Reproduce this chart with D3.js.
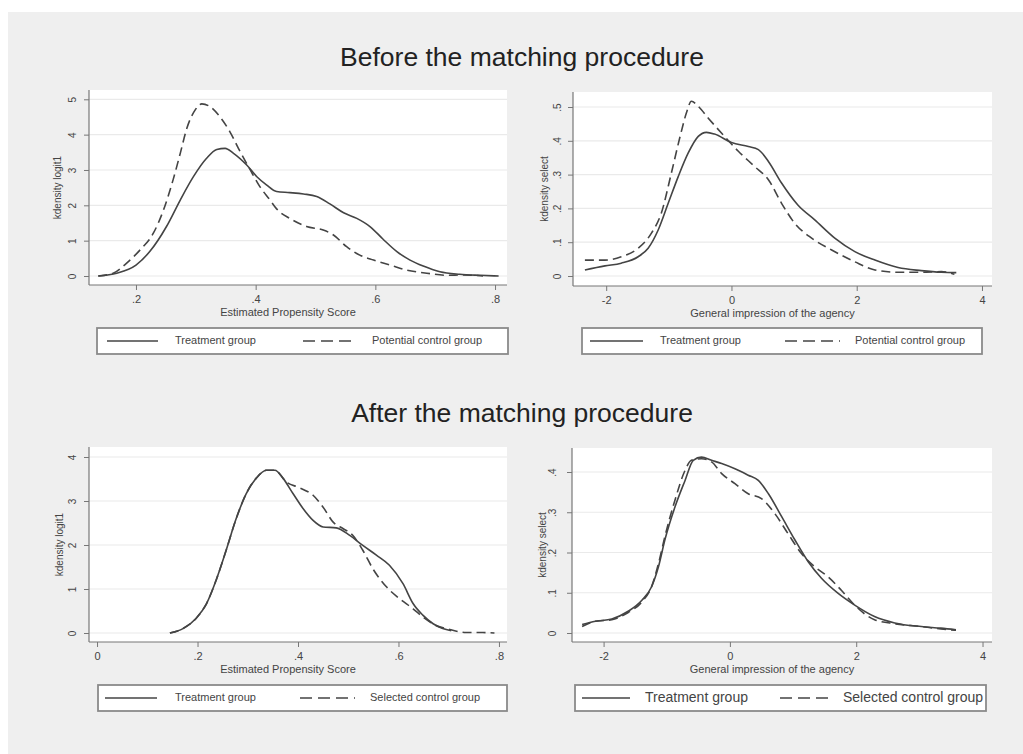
<!DOCTYPE html>
<html>
<head>
<meta charset="utf-8">
<script src="https://cdn.jsdelivr.net/npm/d3@7"></script>
<style>
  body { margin: 0; background: #fff; font-family: "Liberation Sans", Arial, sans-serif; }
  .tick-label, .axis-title, .legend-text { fill: #444; }
</style>
</head>
<body>
<svg id="chart"></svg>
<script>
// ---- data ----
const sectionTitles = ['Before the matching procedure', 'After the matching procedure'];
const scoreTitle = 'Estimated Propensity Score';
const impressionTitle = 'General impression of the agency';
const logitTitle = 'kdensity logit1';
const selectTitle = 'kdensity select';
const seriesNames = ['Treatment group', 'Potential control group', 'Selected control group'];

const scoreTicksTop = [0.2, 0.4, 0.6, 0.8];
const scoreTicksBottom = [0, 0.2, 0.4, 0.6, 0.8];
const impressionTicks = [-2, 0, 2, 4];
const logitTicksTop = [0, 1, 2, 3, 4, 5];
const logitTicksBottom = [0, 1, 2, 3, 4];
const selectTicksTop = [0, 0.1, 0.2, 0.3, 0.4, 0.5];
const selectTicksBottom = [0, 0.1, 0.2, 0.3, 0.4];

// before: propensity score
const beforeScoreTreat = [[0.137,0],[0.168,0.08],[0.2,0.31],[0.223,0.69],[0.251,1.4],[0.274,2.15],[0.296,2.81],
  [0.318,3.33],[0.335,3.58],[0.349,3.61],[0.363,3.47],[0.385,3.14],[0.402,2.81],[0.418,2.58],[0.435,2.39],
  [0.457,2.36],[0.48,2.32],[0.502,2.25],[0.524,2.04],[0.547,1.79],[0.569,1.63],[0.591,1.4],[0.613,1.04],
  [0.636,0.69],[0.658,0.45],[0.68,0.28],[0.708,0.12],[0.741,0.05],[0.775,0.02],[0.806,0]];
const beforeScoreCtrl = [[0.137,0],[0.162,0.08],[0.184,0.36],[0.207,0.74],[0.229,1.21],[0.246,1.87],[0.262,2.72],
  [0.274,3.47],[0.285,4.18],[0.299,4.7],[0.31,4.87],[0.324,4.79],[0.34,4.51],[0.357,4.08],[0.374,3.52],
  [0.391,3.0],[0.407,2.53],[0.424,2.15],[0.435,1.9],[0.457,1.63],[0.485,1.4],[0.513,1.3],[0.53,1.16],
  [0.552,0.83],[0.574,0.59],[0.597,0.45],[0.625,0.31],[0.652,0.17],[0.686,0.08],[0.719,0.02],[0.747,0.03],[0.78,0]];

// before: general impression
const beforeImprTreat = [[-2.34,0.018],[-2.02,0.03],[-1.76,0.038],[-1.49,0.057],[-1.33,0.082],[-1.17,0.136],
  [-1.01,0.215],[-0.85,0.294],[-0.69,0.364],[-0.53,0.413],[-0.4,0.425],[-0.27,0.42],[0,0.395],[0.27,0.383],
  [0.43,0.374],[0.59,0.339],[0.8,0.275],[1.06,0.21],[1.33,0.166],[1.65,0.112],[1.97,0.072],[2.29,0.047],
  [2.66,0.025],[3.03,0.016],[3.35,0.011],[3.59,0.01]];
const beforeImprCtrl = [[-2.34,0.047],[-2.02,0.047],[-1.76,0.057],[-1.49,0.082],[-1.28,0.126],[-1.12,0.186],
  [-0.96,0.304],[-0.82,0.413],[-0.72,0.482],[-0.64,0.517],[-0.53,0.502],[-0.37,0.467],[-0.16,0.423],
  [0.11,0.369],[0.37,0.324],[0.59,0.285],[0.8,0.215],[1.01,0.156],[1.28,0.112],[1.6,0.077],[1.97,0.042],
  [2.29,0.018],[2.66,0.011],[3.03,0.011],[3.35,0.013],[3.56,0.005]];

// after: propensity score
const afterScoreTreat = [[0.145,0],[0.171,0.1],[0.197,0.33],[0.218,0.67],[0.237,1.2],[0.257,1.88],[0.277,2.6],
  [0.297,3.17],[0.317,3.52],[0.337,3.7],[0.354,3.7],[0.37,3.52],[0.39,3.17],[0.41,2.83],[0.43,2.56],
  [0.45,2.41],[0.476,2.39],[0.503,2.22],[0.529,1.99],[0.556,1.77],[0.582,1.54],[0.609,1.12],[0.629,0.67],
  [0.649,0.4],[0.669,0.21],[0.688,0.1],[0.705,0.05]];
const afterScoreCtrl = [[0.145,0],[0.171,0.1],[0.197,0.33],[0.218,0.67],[0.237,1.2],[0.257,1.88],[0.277,2.6],
  [0.297,3.17],[0.317,3.52],[0.337,3.7],[0.354,3.7],[0.377,3.43],[0.403,3.3],[0.43,3.13],[0.45,2.86],
  [0.47,2.52],[0.49,2.37],[0.509,2.22],[0.529,1.88],[0.549,1.46],[0.576,1.05],[0.602,0.78],[0.629,0.55],
  [0.649,0.36],[0.675,0.17],[0.702,0.08],[0.735,0.01],[0.768,0.01],[0.791,0]];

// after: general impression
const afterImprTreat = [[-2.34,0.021],[-2.13,0.029],[-1.87,0.035],[-1.61,0.054],[-1.39,0.082],[-1.24,0.115],
  [-1.13,0.165],[-1.03,0.231],[-0.87,0.313],[-0.71,0.379],[-0.58,0.429],[-0.45,0.437],[-0.29,0.429],
  [-0.13,0.421],[0.08,0.408],[0.29,0.392],[0.45,0.379],[0.61,0.346],[0.82,0.289],[1.03,0.231],[1.24,0.177],
  [1.45,0.136],[1.71,0.099],[1.97,0.07],[2.29,0.041],[2.61,0.025],[3.03,0.016],[3.34,0.012],[3.58,0.008]];
const afterImprCtrl = [[-2.34,0.016],[-2.13,0.029],[-1.87,0.033],[-1.61,0.051],[-1.39,0.078],[-1.24,0.115],
  [-1.13,0.173],[-1.03,0.239],[-0.87,0.33],[-0.71,0.404],[-0.61,0.429],[-0.45,0.433],[-0.29,0.425],
  [-0.13,0.396],[0.08,0.371],[0.29,0.346],[0.5,0.334],[0.71,0.297],[0.92,0.247],[1.13,0.198],[1.34,0.165],
  [1.55,0.14],[1.76,0.107],[1.97,0.07],[2.29,0.033],[2.61,0.023],[3.03,0.016],[3.34,0.01],[3.58,0.007]];

const fmt = d => d === 0 ? '0' : (Math.abs(d) < 1 ? String(d).replace('0.', '.') : String(d));

class DensityPanel {
  constructor(_config, _data) {
    this.config = _config;
    this.data = _data;
    this.initVis();
  }

  initVis() {
    let vis = this;
    const c = vis.config;

    vis.xScale = d3.scaleLinear().domain(c.xDomain).range([c.left, c.right]);
    vis.yScale = d3.scaleLinear().domain([0, c.yTicks[c.yTicks.length - 1]])
        .range([c.y0, c.yTop]);

    vis.g = d3.select('#chart').append('g');

    // white plot region
    vis.g.append('rect')
        .attr('x', c.left).attr('y', c.top)
        .attr('width', c.right - c.left).attr('height', c.bottom - c.top)
        .attr('fill', '#fff');

    // gridlines
    vis.g.selectAll('.grid')
        .data(c.yTicks)
      .join('line')
        .attr('x1', c.left).attr('x2', c.right)
        .attr('y1', d => vis.yScale(d)).attr('y2', d => vis.yScale(d))
        .attr('stroke', '#eaeaea').attr('stroke-width', 1.2);

    // y axis
    vis.yAxis = d3.axisLeft(vis.yScale).tickValues(c.yTicks).tickSize(5).tickFormat(fmt);
    vis.yAxisG = vis.g.append('g')
        .attr('transform', `translate(${c.left},0)`)
        .call(vis.yAxis);
    vis.yAxisG.select('.domain').remove();
    vis.yAxisG.selectAll('line').attr('stroke', '#777');
    vis.yAxisG.selectAll('text')
        .attr('class', 'tick-label')
        .attr('x', 0).attr('dy', null)
        .attr('transform', `translate(${c.yLabelX - c.left},0) rotate(-90)`)
        .attr('text-anchor', 'middle')
        .attr('dominant-baseline', 'middle')
        .style('font-size', '10px')
        .style('fill', '#444');

    // x axis
    vis.xAxis = d3.axisBottom(vis.xScale).tickValues(c.xTicks).tickSize(5).tickFormat(fmt);
    vis.xAxisG = vis.g.append('g')
        .attr('transform', `translate(0,${c.bottom})`)
        .call(vis.xAxis);
    vis.xAxisG.select('.domain').remove();
    vis.xAxisG.selectAll('line').attr('stroke', '#777');
    vis.xAxisG.selectAll('text')
        .attr('y', 10).attr('dy', '0.71em')
        .style('font-size', '11px')
        .style('fill', '#444');

    // axis lines
    vis.g.append('line')
        .attr('x1', c.left).attr('x2', c.left).attr('y1', c.top).attr('y2', c.bottom)
        .attr('stroke', '#777').attr('stroke-width', 1.2);
    vis.g.append('line')
        .attr('x1', c.left).attr('x2', c.right).attr('y1', c.bottom).attr('y2', c.bottom)
        .attr('stroke', '#777').attr('stroke-width', 1.2);

    // axis titles
    vis.g.append('text')
        .attr('class', 'axis-title')
        .attr('transform', `translate(${c.yTitleX},${(c.top + c.bottom) / 2}) rotate(-90)`)
        .attr('text-anchor', 'middle')
        .attr('dominant-baseline', 'middle')
        .style('font-size', '10px')
        .text(c.yTitle);

    vis.g.append('text')
        .attr('class', 'axis-title')
        .attr('x', (c.left + c.right) / 2 - 10)
        .attr('y', c.bottom + 28)
        .attr('text-anchor', 'middle')
        .attr('dominant-baseline', 'middle')
        .style('font-size', '11px')
        .text(c.xTitle);

    vis.line = d3.line()
        .x(d => vis.xScale(d[0]))
        .y(d => vis.yScale(d[1]))
        .curve(d3.curveMonotoneX);

    vis.renderVis();
    vis.renderLegend();
  }

  renderVis() {
    let vis = this;
    vis.g.selectAll('.chart-line')
        .data(vis.data)
      .join('path')
        .attr('class', 'chart-line')
        .attr('d', d => vis.line(d.values))
        .attr('fill', 'none')
        .attr('stroke', '#444')
        .attr('stroke-width', 1.6)
        .attr('stroke-dasharray', d => d.dashed ? '9,5' : null);
  }

  renderLegend() {
    let vis = this;
    const lg = vis.config.legend;
    const leg = vis.g.append('g');
    leg.append('rect')
        .attr('x', lg.x0).attr('y', lg.y - 13)
        .attr('width', lg.x1 - lg.x0).attr('height', 26)
        .attr('fill', '#fff').attr('stroke', '#8a8a8a').attr('stroke-width', 1.8);

    vis.data.forEach((d, i) => {
      const item = lg.items[i];
      leg.append('line')
          .attr('x1', item[0]).attr('x2', item[1])
          .attr('y1', lg.y).attr('y2', lg.y)
          .attr('stroke', '#444').attr('stroke-width', 1.6)
          .attr('stroke-dasharray', d.dashed ? '12,6' : null);
      leg.append('text')
          .attr('class', 'legend-text')
          .attr('x', item[2]).attr('y', lg.y)
          .attr('dominant-baseline', 'middle')
          .style('font-size', lg.font + 'px')
          .text(d.name);
    });
  }
}

const svg = d3.select('#chart').attr('width', 1023).attr('height', 754);

// grey graph region
svg.append('rect')
    .attr('x', 8).attr('y', 12).attr('width', 1015).attr('height', 742)
    .attr('fill', '#efefef');

svg.selectAll('.section-title')
    .data(sectionTitles)
  .join('text')
    .attr('class', 'section-title')
    .attr('x', 522)
    .attr('y', (d, i) => i === 0 ? 59 : 415)
    .attr('text-anchor', 'middle')
    .attr('dominant-baseline', 'middle')
    .style('font-size', '26.5px')
    .style('fill', '#222')
    .text(d => d);

new DensityPanel({
  left: 89, right: 507, top: 90, bottom: 285, y0: 276, yTop: 99.3,
  xDomain: [0.1215, 0.82], xTicks: scoreTicksTop, yTicks: logitTicksTop,
  yLabelX: 73, yTitleX: 58, yTitle: logitTitle, xTitle: scoreTitle,
  legend: { x0: 97, x1: 508, y: 341, font: 11, items: [[107, 158, 175], [303, 355, 372]] }
}, [
  { name: seriesNames[0], values: beforeScoreTreat, dashed: false },
  { name: seriesNames[1], values: beforeScoreCtrl, dashed: true }
]);

new DensityPanel({
  left: 573, right: 992, top: 92, bottom: 286, y0: 276, yTop: 107,
  xDomain: [-2.53, 4.16], xTicks: impressionTicks, yTicks: selectTicksTop,
  yLabelX: 558, yTitleX: 545, yTitle: selectTitle, xTitle: impressionTitle,
  legend: { x0: 582, x1: 982, y: 341, font: 11, items: [[590, 643, 660], [785, 840, 855]] }
}, [
  { name: seriesNames[0], values: beforeImprTreat, dashed: false },
  { name: seriesNames[1], values: beforeImprCtrl, dashed: true }
]);

new DensityPanel({
  left: 89, right: 507, top: 447, bottom: 642, y0: 633, yTop: 457,
  xDomain: [-0.016, 0.816], xTicks: scoreTicksBottom, yTicks: logitTicksBottom,
  yLabelX: 73, yTitleX: 60, yTitle: logitTitle, xTitle: scoreTitle,
  legend: { x0: 98, x1: 507, y: 698, font: 11, items: [[105, 157, 175], [300, 355, 370]] }
}, [
  { name: seriesNames[0], values: afterScoreTreat, dashed: false },
  { name: seriesNames[2], values: afterScoreCtrl, dashed: true }
]);

new DensityPanel({
  left: 572, right: 992, top: 448, bottom: 642, y0: 633, yTop: 472,
  xDomain: [-2.5, 4.15], xTicks: impressionTicks, yTicks: selectTicksBottom,
  yLabelX: 553, yTitleX: 543, yTitle: selectTitle, xTitle: impressionTitle,
  legend: { x0: 575, x1: 986, y: 698, font: 14, items: [[582, 630, 645], [780, 832, 843]] }
}, [
  { name: seriesNames[0], values: afterImprTreat, dashed: false },
  { name: seriesNames[2], values: afterImprCtrl, dashed: true }
]);
</script>
</body>
</html>
